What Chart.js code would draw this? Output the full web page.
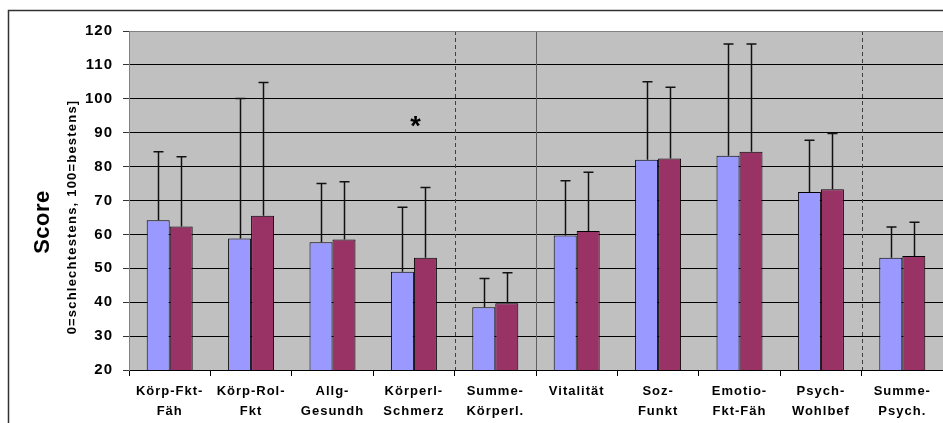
<!DOCTYPE html>
<html><head><meta charset="utf-8">
<script src="https://cdn.jsdelivr.net/npm/chart.js@4/dist/chart.umd.min.js"></script>
<style>html,body{margin:0;padding:0;background:#fff}#wrap{width:943px;height:423px}</style>
</head><body><div id="wrap"><canvas id="c" width="943" height="423"></canvas></div>
<script>
const categories = [["Körp-Fkt-","Fäh"],["Körp-Rol-","Fkt"],["Allg-","Gesundh"],["Körperl-","Schmerz"],["Summe-","Körperl."],["Vitalität"],["Soz-","Funkt"],["Emotio-","Fkt-Fäh"],["Psych-","Wohlbef"],["Summe-","Psych."]];
const seriesA = [64.2, 58.8, 57.7, 49.0, 38.5, 59.7, 82.0, 83.2, 72.5, 53.1];
const errTopA = [84.4, 100.1, 75.0, 68.0, 47.0, 75.8, 105.0, 116.2, 87.8, 62.2];
const seriesB = [62.3, 65.5, 58.5, 53.1, 39.7, 61.0, 82.4, 84.4, 73.3, 53.6];
const errTopB = [82.9, 104.8, 75.5, 73.8, 48.7, 78.3, 103.4, 116.2, 89.8, 63.6];
const yMin = 20, yMax = 120, yStep = 10;
const dashedAfter = [3, 8];
const solidAfter = [4];
const starCategory = 3, starValue = 93.5;
const yTitle = "Score";
const ySubTitle = "0=schlechtestens, 100=bestens]";

const FONT = '"Liberation Sans", Arial, Helvetica, sans-serif';
const errTops = [errTopA, errTopB];

const deco = {
  id: 'deco',
  beforeDraw(chart) {
    const {ctx, chartArea: a} = chart;
    ctx.save();
    ctx.fillStyle = '#C0C0C0';
    ctx.fillRect(a.left, a.top, a.right - a.left, a.bottom - a.top);
    ctx.restore();
    ctx.letterSpacing = '1px';
  },
  beforeDatasetsDraw(chart) {
    const {ctx, chartArea: a, scales: {x}} = chart;
    const bound = i => (x.getPixelForValue(i) + x.getPixelForValue(i + 1)) / 2;
    ctx.save();
    ctx.lineWidth = 1;
    ctx.strokeStyle = '#404040';
    ctx.setLineDash([4, 3]);
    dashedAfter.forEach(i => {
      const px = Math.round(bound(i)) + 0.5;
      ctx.beginPath(); ctx.moveTo(px, a.top); ctx.lineTo(px, a.bottom); ctx.stroke();
    });
    ctx.setLineDash([]);
    ctx.strokeStyle = '#606060';
    solidAfter.forEach(i => {
      const px = Math.round(bound(i)) + 0.5;
      ctx.beginPath(); ctx.moveTo(px, a.top); ctx.lineTo(px, a.bottom); ctx.stroke();
    });
    ctx.restore();
  },
  afterDatasetsDraw(chart) {
    const {ctx, scales: {x, y}} = chart;
    ctx.save();
    ctx.strokeStyle = '#111';
    ctx.lineWidth = 1.5;
    chart.data.datasets.forEach((ds, di) => {
      const meta = chart.getDatasetMeta(di);
      meta.data.forEach((el, j) => {
        const px = Math.round(el.x) + 0.5;
        const yt = y.getPixelForValue(errTops[di][j]);
        ctx.beginPath();
        ctx.moveTo(px, el.y); ctx.lineTo(px, yt);
        ctx.moveTo(px - 5, yt); ctx.lineTo(px + 5, yt);
        ctx.stroke();
      });
    });
    ctx.fillStyle = '#000';
    ctx.letterSpacing = '0px';
    ctx.font = 'bold 27px ' + FONT;
    ctx.textAlign = 'center';
    ctx.textBaseline = 'alphabetic';
    ctx.fillText('*', x.getPixelForValue(starCategory) + 1.5, y.getPixelForValue(starValue) + 14);
    ctx.restore();
  },
  afterDraw(chart) {
    const {ctx} = chart;
    ctx.save();
    ctx.letterSpacing = '0px';
    ctx.strokeStyle = '#333';
    ctx.lineWidth = 1.5;
    ctx.beginPath();
    ctx.moveTo(8.5, 423); ctx.lineTo(8.5, 10.5); ctx.lineTo(943, 10.5);
    ctx.stroke();
    const a = chart.chartArea;
    ctx.strokeStyle = '#808080';
    ctx.lineWidth = 1;
    ctx.beginPath(); ctx.moveTo(a.left, a.top + 0.5); ctx.lineTo(a.right, a.top + 0.5); ctx.stroke();
    ctx.fillStyle = '#000';
    ctx.textAlign = 'center';
    ctx.textBaseline = 'middle';
    ctx.translate(43, 222);
    ctx.rotate(-Math.PI / 2);
    ctx.font = 'bold 22px ' + FONT;
    ctx.letterSpacing = '0.5px';
    ctx.fillText(yTitle, 0, 0);
    ctx.restore();
    ctx.save();
    ctx.fillStyle = '#000';
    ctx.textAlign = 'center';
    ctx.textBaseline = 'middle';
    ctx.translate(72, 217);
    ctx.rotate(-Math.PI / 2);
    ctx.font = 'bold 13px ' + FONT;
    ctx.letterSpacing = '1.2px';
    ctx.fillText(ySubTitle, 0, 0);
    ctx.restore();
    ctx.letterSpacing = '0px';
  }
};

new Chart(document.getElementById('c'), {
  type: 'bar',
  data: {
    labels: categories,
    datasets: [
      {label: 'Gruppe 1', data: seriesA, backgroundColor: '#9999FF', borderColor: '#000', borderWidth: 1},
      {label: 'Gruppe 2', data: seriesB, backgroundColor: '#993366', borderColor: '#000', borderWidth: 1}
    ]
  },
  options: {
    responsive: false,
    devicePixelRatio: 1,
    animation: false,
    layout: {padding: {top: 31, right: 0, bottom: 0, left: 0}},
    datasets: {bar: {categoryPercentage: 0.565, barPercentage: 1.0}},
    plugins: {legend: {display: false}, tooltip: {enabled: false}},
    scales: {
      x: {
        offset: true,
        afterFit: s => { s.height = 53; },
        grid: {display: true, drawOnChartArea: false, offset: true, tickLength: 6, color: '#000'},
        border: {display: true, color: '#000', width: 1},
        ticks: {padding: 5, color: '#000', maxRotation: 0, autoSkip: false,
          font: {family: FONT, size: 13, weight: 'bold', lineHeight: 20 / 13}}
      },
      y: {
        min: yMin, max: yMax,
        afterFit: s => { s.width = 129; },
        grid: {
          color: ctx => ctx.tick && ctx.tick.value === yMax ? '#808080' : '#000',
          tickColor: '#333', tickLength: 6, lineWidth: 1
        },
        border: {display: true, color: '#808080', width: 1},
        ticks: {stepSize: yStep, padding: 10, color: '#000',
          font: {family: FONT, size: 15, weight: 'bold'}}
      }
    }
  },
  plugins: [deco]
});
</script>
</body></html>
